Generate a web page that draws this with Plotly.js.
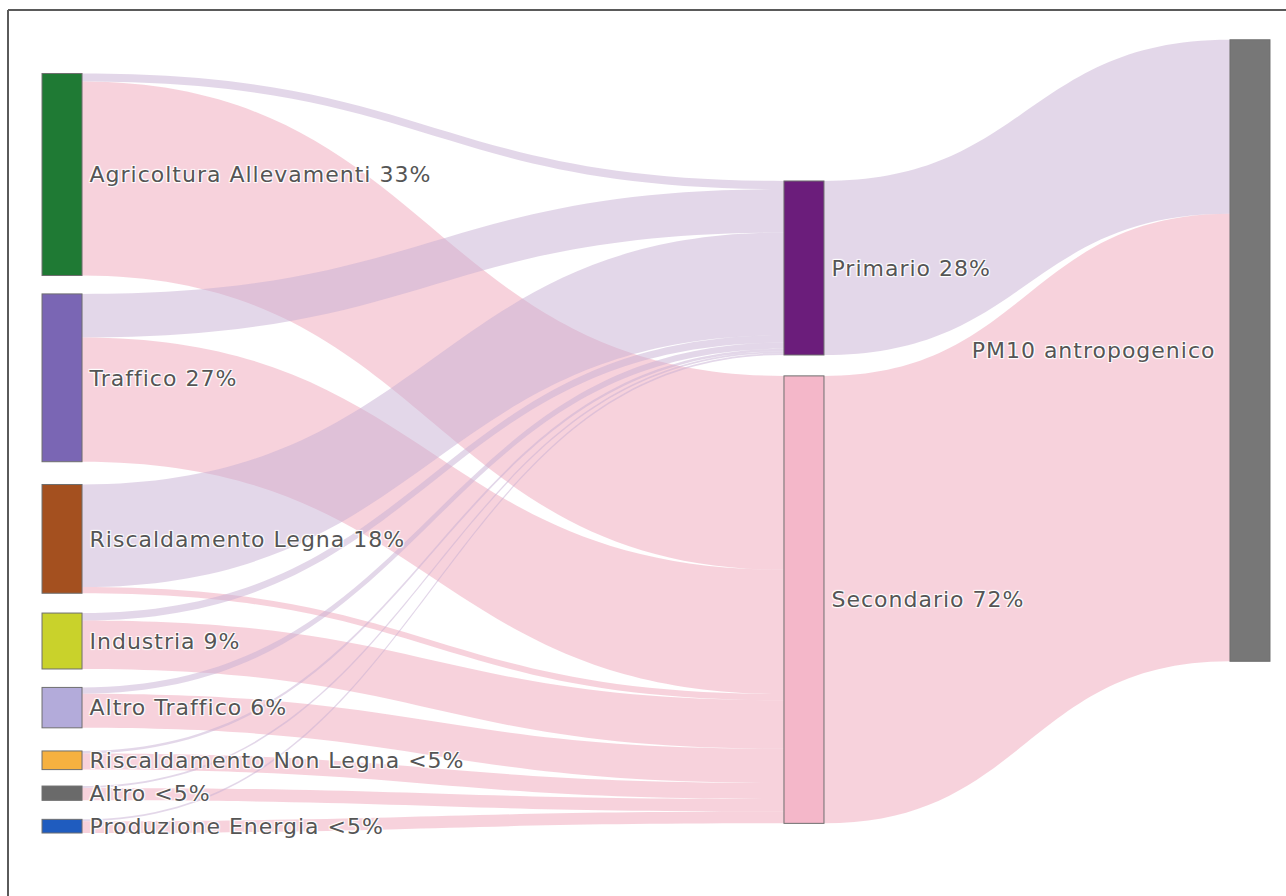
<!DOCTYPE html>
<html>
<head>
<meta charset="utf-8">
<script src="https://cdn.plot.ly/plotly-3.0.1.min.js"></script>
<style>
  html, body { margin: 0; padding: 0; background: #ffffff; }
  #chart { width: 1286px; height: 896px; }
  #chart text.node-label { letter-spacing: 1px; }
</style>
</head>
<body>
<div id="chart"></div>
<script>
// ---- data ----
const nodeLabels = [
  "Agricoltura Allevamenti 33%",
  "Traffico 27%",
  "Riscaldamento Legna 18%",
  "Industria 9%",
  "Altro Traffico 6%",
  "Riscaldamento Non Legna <5%",
  "Altro <5%",
  "Produzione Energia <5%",
  "Primario 28%",
  "Secondario 72%",
  "PM10 antropogenico"
];
const sourceNames = nodeLabels.slice(0, 8);
// share of each source going to Primario / Secondario (percent of total PM10)
const toPrimario   = [1.3, 7.0, 16.5, 1.2, 1.0, 0.4, 0.3, 0.3];
const toSecondario = [31.2, 20.0, 1.0, 7.8, 5.5, 2.6, 2.0, 1.9];
const primarioToPM10 = 28;
const secondarioToPM10 = 72;

// ---- styles / layout positions ----
const nodeColors = ["#1f7a34", "#7a66b4", "#a4501f", "#c9d22b", "#b3abda",
                    "#f6b140", "#6a6a6a", "#1f5cbf", "#6b1d7b", "#f4b7c9", "#777777"];
const nodeX = [0.0163, 0.0163, 0.0163, 0.0163, 0.0163, 0.0163, 0.0163, 0.0163, 0.6205, 0.6205, 0.9837];
const nodeY = [0.1696, 0.4260, 0.6291, 0.7579, 0.8419, 0.9083, 0.9498, 0.9914, 0.2875, 0.7057, 0.3916];
const lavender = "rgba(200,175,212,0.5)";
const pink = "rgba(240,165,186,0.5)";

const src = [], tgt = [], val = [], lcol = [];
sourceNames.forEach((n, i) => {
  src.push(i); tgt.push(8); val.push(toPrimario[i]); lcol.push(lavender);
  src.push(i); tgt.push(9); val.push(toSecondario[i]); lcol.push(pink);
});
src.push(8); tgt.push(10); val.push(primarioToPM10); lcol.push(lavender);
src.push(9); tgt.push(10); val.push(secondarioToPM10); lcol.push(pink);

const W = 1286, H = 896;
const trace = {
  type: "sankey",
  arrangement: "fixed",
  domain: { x: [42 / W, 1270 / W], y: [1 - 833 / H, 1 - 40 / H] },
  node: {
    label: nodeLabels,
    color: nodeColors,
    x: nodeX,
    y: nodeY,
    pad: 24.5,
    thickness: 40,
    line: { color: "#6f6f6f", width: 1 }
  },
  link: { source: src, target: tgt, value: val, color: lcol },
  textfont: { family: "DejaVu Sans, Verdana, sans-serif", size: 22, color: "#555555" },
  hoverinfo: "none"
};

const layout = {
  width: W, height: H,
  margin: { l: 0, r: 0, t: 0, b: 0 },
  paper_bgcolor: "#ffffff",
  showlegend: false,
  shapes: [
    { type: "line", xref: "paper", yref: "paper", x0: 8 / W, x1: 1, y0: 1 - 10 / H, y1: 1 - 10 / H,
      line: { color: "#5a5a5a", width: 2 } },
    { type: "line", xref: "paper", yref: "paper", x0: 8 / W, x1: 8 / W, y0: 0, y1: 1 - 10 / H,
      line: { color: "#5a5a5a", width: 2 } }
  ]
};

Plotly.newPlot("chart", [trace], layout, { displayModeBar: false, staticPlot: true }).then(function () {
  document.querySelectorAll("#chart text.node-label").forEach(function (t) {
    const anchor = t.getAttribute("text-anchor") || window.getComputedStyle(t).textAnchor;
    t.setAttribute("dx", anchor === "end" ? "-11" : "4");
  });
});
</script>
</body>
</html>
